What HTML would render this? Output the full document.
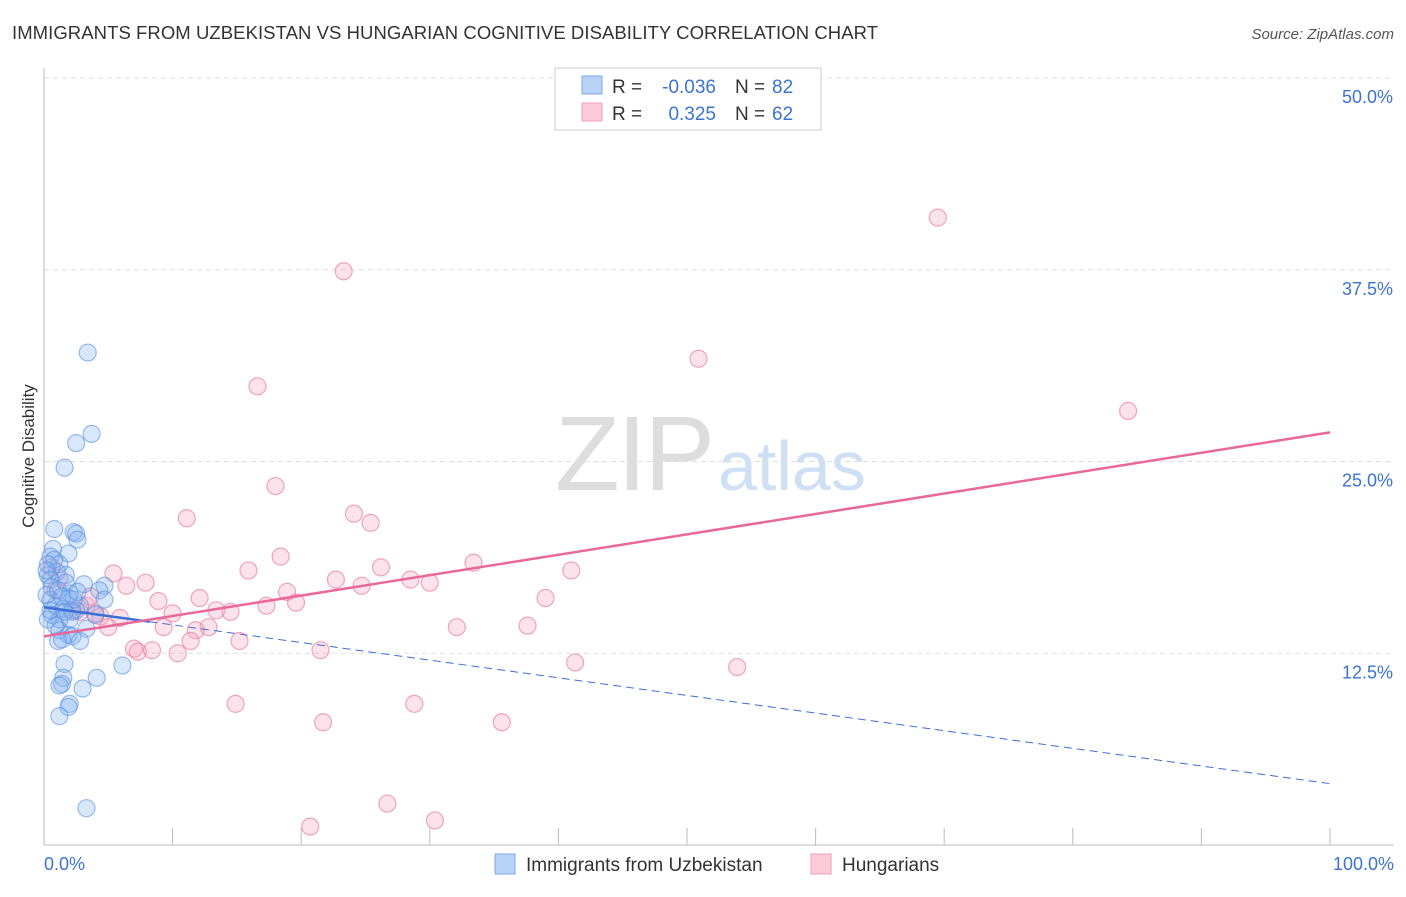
<!DOCTYPE html>
<html><head><meta charset="utf-8"><style>
body{margin:0;background:#fff;font-family:"Liberation Sans",sans-serif;}
svg text{font-family:"Liberation Sans",sans-serif;}
</style></head><body>
<svg id="chart" width="1406" height="892" xmlns="http://www.w3.org/2000/svg">
<text x="12" y="39" font-size="18.5" fill="#333" textLength="866">IMMIGRANTS FROM UZBEKISTAN VS HUNGARIAN COGNITIVE DISABILITY CORRELATION CHART</text>
<text x="1394" y="39" font-size="15" fill="#555" font-style="italic" text-anchor="end">Source: ZipAtlas.com</text>
<text x="34" y="456" font-size="17" fill="#333" text-anchor="middle" transform="rotate(-90 34 456)">Cognitive Disability</text>
<text x="555" y="490" font-size="106" fill="#ddd" textLength="160" font-family="Liberation Serif">ZIP</text>
<text x="718" y="490" font-size="70" fill="#cfe0f5">atlas</text>
<g id="grid"></g><g id="axes"></g><g id="pink"></g><g id="blue"></g><g id="trends"></g>
<g>
<rect x="555" y="68" width="266" height="62" fill="#fff" stroke="#ccc"/>
<rect x="582" y="76" width="20" height="18" fill="#b8d3f5" stroke="#7aa8e8"/>
<rect x="582" y="103" width="20" height="18" fill="#fbcad9" stroke="#f0a0ba"/>
<text x="612" y="93" font-size="19" fill="#333">R =</text>
<text x="716" y="93" font-size="19" fill="#3b73d0" text-anchor="end">-0.036</text>
<text x="735" y="93" font-size="19" fill="#333">N =</text>
<text x="772" y="93" font-size="19" fill="#3b73d0">82</text>
<text x="612" y="120" font-size="19" fill="#333">R =</text>
<text x="716" y="120" font-size="19" fill="#3b73d0" text-anchor="end">0.325</text>
<text x="735" y="120" font-size="19" fill="#333">N =</text>
<text x="772" y="120" font-size="19" fill="#3b73d0">62</text>
</g>
<g>
<rect x="495" y="854" width="20" height="20" fill="#b8d3f5" stroke="#7aa8e8"/>
<text x="526" y="871" font-size="19" fill="#333">Immigrants from Uzbekistan</text>
<rect x="811" y="854" width="20" height="20" fill="#fbcad9" stroke="#f0a0ba"/>
<text x="842" y="871" font-size="19" fill="#333">Hungarians</text>
</g>
</svg>
<script>
const yTicks=[12.5,25,37.5,50];
const yTickLabels=["12.5%","25.0%","37.5%","50.0%"];
const xTickLabels=["0.0%","100.0%"];
const blueX=[3.4,3.7,2.5,1.6,0.8,2.3,2.5,2.6,1.9,0.7,0.5,1.2,1.0,1.7,0.3,3.1,4.7,4.3,2.0,1.9,4.7,0.5,0.9,1.5,2.8,2.5,4.0,0.6,1.2,3.3,1.2,1.9,2.2,2.8,1.1,1.4,6.1,1.6,1.5,1.4,1.2,4.1,3.0,2.0,1.9,1.2,3.3,0.3,0.5,0.6,0.2,0.8,1.1,1.7,2.2,0.3,0.9,2.0,2.3,1.4,0.5,0.2,1.6,2.6];
const blueY=[32.1,26.8,26.2,24.6,20.6,20.4,20.3,19.9,19.0,19.3,18.8,18.3,17.8,17.6,17.6,17.0,16.9,16.6,16.4,16.1,16.0,16.0,15.6,15.4,15.6,15.3,15.0,15.0,14.7,14.1,14.0,13.7,13.6,13.3,13.3,13.4,11.7,11.8,10.9,10.5,10.4,10.9,10.2,9.2,9.0,8.4,2.4,18.3,17.3,16.8,16.3,18.6,16.6,17.1,15.2,14.7,14.3,14.7,16.0,16.2,15.3,17.9,15.2,16.5];
const pinkX=[69.5,23.3,50.9,16.6,84.3,18.0,11.1,24.1,25.4,18.4,33.4,15.9,41.0,26.2,5.4,22.7,28.5,30.0,7.9,6.4,24.7,18.9,12.1,39.0,8.9,17.3,19.6,13.4,14.5,10.0,4.4,5.9,3.3,2.2,5.0,9.3,12.8,11.8,32.1,37.6,15.2,11.4,21.5,7.0,7.3,8.4,10.4,41.3,53.9,14.9,28.8,21.7,35.6,26.7,30.4,20.7,1.2,0.6,3.6,2.8,0.9,4.0];
const pinkY=[40.9,37.4,31.7,29.9,28.3,23.4,21.3,21.6,21.0,18.8,18.4,17.9,17.9,18.1,17.7,17.3,17.3,17.1,17.1,16.9,16.9,16.5,16.1,16.1,15.9,15.6,15.8,15.3,15.2,15.1,14.9,14.8,15.6,15.3,14.2,14.2,14.2,14.0,14.2,14.3,13.3,13.3,12.7,12.8,12.6,12.7,12.5,11.9,11.6,9.2,9.2,8.0,8.0,2.7,1.6,1.2,17.4,18.1,16.2,15.2,16.6,15.1];
const blueTrend=[15.5,4.0];
const pinkTrend=[13.6,26.9];
const NS="http://www.w3.org/2000/svg";
const X=v=>44+v*12.86, Y=v=>845-v*15.34;
function mk(tag,attrs,parent){const e=document.createElementNS(NS,tag);for(const k in attrs)e.setAttribute(k,attrs[k]);document.getElementById(parent).appendChild(e);return e;}
mk('line',{x1:44,y1:68,x2:44,y2:845,stroke:'#bbb'},'axes');
mk('line',{x1:44,y1:845,x2:1394,y2:845,stroke:'#bbb'},'axes');
for(let i=1;i<=10;i++){const t=mk('line',{x1:X(i*10),y1:828,x2:X(i*10),y2:845,stroke:'#bbb'},'axes');

}
yTicks.forEach((v,i)=>{const g=mk('line',{x1:44,y1:Y(v),x2:1394,y2:Y(v),stroke:'#ddd','stroke-dasharray':'5,4'},'grid');


const t=mk('text',{x:1393,y:Y(v)+25,'font-size':18,fill:'#3b73d0','text-anchor':'end'},'axes');t.textContent=yTickLabels[i];

});
[[0,'start',44],[100,'end',1394]].forEach((a,i)=>{const t=mk('text',{x:a[2],y:870,'font-size':18,fill:'#3b73d0','text-anchor':a[1]},'axes');t.textContent=xTickLabels[i];

});
pinkX.forEach((x,i)=>{const c=mk('circle',{cx:X(x),cy:Y(pinkY[i]),r:8.5,fill:'rgba(244,160,190,0.3)',stroke:'rgba(232,130,165,0.7)','stroke-width':1.2},'pink');

});
blueX.forEach((x,i)=>{const c=mk('circle',{cx:X(x),cy:Y(blueY[i]),r:8.5,fill:'rgba(130,175,240,0.3)',stroke:'rgba(90,145,225,0.6)','stroke-width':1.2},'blue');

});
const bAt=x=>blueTrend[0]+(blueTrend[1]-blueTrend[0])*x/100;
const bs=mk('line',{x1:X(0),y1:Y(bAt(0)),x2:X(8.2),y2:Y(bAt(8.2)),stroke:'#3b6fd6','stroke-width':2.5},'trends');


const bd=mk('line',{x1:X(8.2),y1:Y(bAt(8.2)),x2:X(100),y2:Y(bAt(100)),stroke:'#3b6fd6','stroke-width':1,'stroke-dasharray':'8,5'},'trends');


const pl=mk('line',{x1:X(0),y1:Y(pinkTrend[0]),x2:X(100),y2:Y(pinkTrend[1]),stroke:'#e8689a','stroke-width':2.5},'trends');


</script>
</body></html>
